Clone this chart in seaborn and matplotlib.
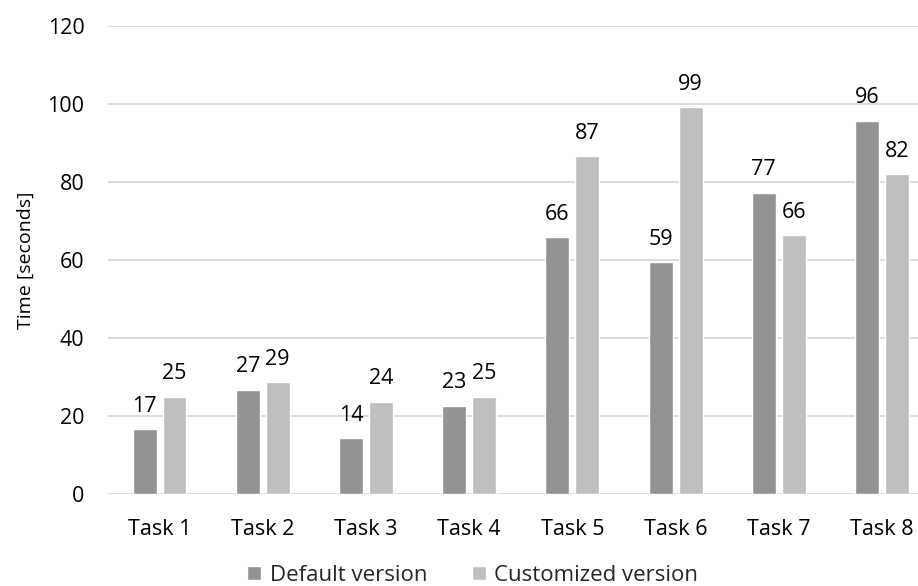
import matplotlib
matplotlib.use("Agg")
import matplotlib.pyplot as plt
import seaborn as sns
import pandas as pd

# Task completion times per version
tasks = ["Task 1", "Task 2", "Task 3", "Task 4", "Task 5", "Task 6", "Task 7", "Task 8"]
default_times = [16.6, 26.7, 14.3, 22.6, 65.8, 59.4, 77.3, 95.7]
customized_times = [24.9, 28.6, 23.6, 24.9, 86.6, 99.2, 66.3, 82.0]
versions = ["Default version", "Customized version"]
colors = ["#939393", "#BFBFBF"]

df = pd.DataFrame({
    "task": tasks * 2,
    "time": default_times + customized_times,
    "version": [versions[0]] * len(tasks) + [versions[1]] * len(tasks),
})

sns.set_theme(style="white")
plt.rcParams["font.family"] = ["Open Sans", "DejaVu Sans"]

fig = plt.figure(figsize=(9.18, 5.86), dpi=100)
ax = fig.add_axes([0.1176, 0.157, 0.8994, 0.7986])

sns.barplot(data=df, x="task", y="time", hue="version", order=tasks,
            hue_order=versions, palette=colors, width=0.58, gap=0.2,
            saturation=1, errorbar=None, ax=ax)

for cont in ax.containers:
    ax.bar_label(cont, fmt="%.0f", padding=9, fontsize=15.5, color="#000000")

ax.set_ylim(0, 120)
ax.set_yticks(range(0, 121, 20))
ax.set_xlim(-0.5, len(tasks) - 0.5)
ax.yaxis.grid(True, color="#D9D9D9", linewidth=1.3)
ax.set_axisbelow(True)
for s in ax.spines.values():
    s.set_visible(False)
ax.tick_params(axis="both", length=0, labelsize=15.5, colors="#000000")
ax.tick_params(axis="y", pad=17)
ax.tick_params(axis="x", pad=18)
ax.set_xlabel("")
ax.set_ylabel("Time [seconds]", fontsize=14, color="#000000", labelpad=9)

handles, labels = ax.get_legend_handles_labels()
ax.get_legend().remove()
fig.legend(handles, labels, loc="center", bbox_to_anchor=(0.515, 0.018),
           ncol=2, frameon=False, fontsize=16, handlelength=0.62,
           handleheight=0.62, handletextpad=0.4, columnspacing=2.0)

fig.savefig("out.png", dpi=100)
